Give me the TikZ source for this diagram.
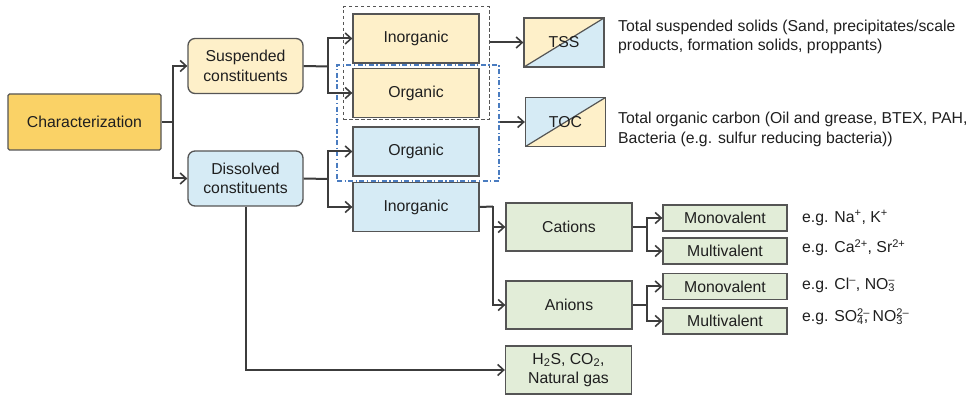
\documentclass[tikz,border=0pt]{standalone}
\usepackage{fontspec}
\setmainfont{Liberation Sans}
\usepackage{xcolor}
\usepackage{tikz}
\usetikzlibrary{arrows.meta}

\definecolor{charfill}{HTML}{FAD266}
\definecolor{suspfill}{HTML}{FEF0C9}
\definecolor{dissfill}{HTML}{D6EBF5}
\definecolor{ionfill}{HTML}{E2EDD8}
\definecolor{boxline}{HTML}{555555}
\definecolor{wire}{HTML}{3C3C3C}
\definecolor{grpblue}{HTML}{4A7CC0}

\newcommand{\chemion}[2]{\rlap{\textsuperscript{#2}}\textsubscript{#1}}

\begin{document}
\begin{tikzpicture}[x=1pt, y=-1pt, font=\fontsize{15.8}{19.5}\selectfont,
  box/.style={draw=boxline, line width=1.3pt, align=center, inner sep=2pt, text=black!88},
  topbox/.style={box, fill=charfill, rounded corners=1.5pt, minimum width=153pt, minimum height=56pt},
  phasebox/.style={box, rounded corners=7pt, minimum width=115pt, minimum height=55pt},
  kindbox/.style={box, minimum width=126pt, minimum height=49pt},
  ionbox/.style={box, fill=ionfill, minimum width=126pt, minimum height=48pt},
  valbox/.style={box, fill=ionfill, minimum width=124pt, minimum height=26pt, inner sep=1pt},
  halfbox/.style 2 args={box, minimum width=80pt, minimum height=49pt, path picture={
    \fill[#1] (path picture bounding box.south west) |- (path picture bounding box.north east) -- cycle;
    \fill[#2] (path picture bounding box.south west) -| (path picture bounding box.north east) -- cycle;
    \draw[boxline, line width=1.2pt] (path picture bounding box.south west) -- (path picture bounding box.north east);}},
  grp/.style={draw=boxline, line width=1pt, dash pattern=on 3.5pt off 2.5pt, inner sep=0pt},
  bluegrp/.style={draw=grpblue, line width=1.3pt, dash pattern=on 5pt off 2.5pt on 1.2pt off 2.5pt, inner sep=0pt},
  note/.style={anchor=west, align=left, inner sep=0pt, text=black!88},
  arr/.style={draw=wire, line width=2pt, -{Straight Barb[length=6pt, width=11pt, line width=1.6pt]}},
  wr/.style={draw=wire, line width=2pt}]
\useasboundingbox (0,0) rectangle (972,395);

\node[topbox] (char) at (84.5,122) {Characterization};
\node[phasebox, fill=suspfill] (susp) at (245.5,66) {Suspended\\constituents};
\node[phasebox, fill=dissfill] (diss) at (245.5,178.5) {Dissolved\\constituents};

\node[kindbox, fill=suspfill] (sinorg) at (416,38.5) {Inorganic};
\node[kindbox, fill=suspfill] (sorg) at (416,93) {Organic};
\node[kindbox, fill=dissfill] (dorg) at (416,151.5) {Organic};
\node[kindbox, fill=dissfill] (dinorg) at (416,207) {Inorganic};

\node[grp, minimum width=146pt, minimum height=113pt] (sgrp) at (416,63.5) {};
\node[bluegrp, minimum width=162pt, minimum height=116pt] (ogrp) at (418,123) {};

\node[halfbox={suspfill}{dissfill}] (tss) at (564,42.5) {TSS};
\node[halfbox={dissfill}{suspfill}] (toc) at (565.5,122) {TOC};
\node[note] (tssnote) at (618,37) {Total suspended solids (Sand, precipitates/scale\\products, formation solids, proppants)};
\node[note] (tocnote) at (618,129.5) {Total organic carbon (Oil and grease, BTEX, PAH,\\Bacteria (e.g. sulfur reducing bacteria))};

\node[ionbox] (cat) at (569,227) {Cations};
\node[ionbox] (an) at (569,305) {Anions};
\node[valbox] (cmono) at (725,218) {Monovalent};
\node[valbox] (cmulti) at (725,251) {Multivalent};
\node[valbox] (amono) at (725,286.5) {Monovalent};
\node[valbox] (amulti) at (725,321) {Multivalent};
\node[note] (cmonoex) at (802,218) {e.g. Na\textsuperscript{+}, K\textsuperscript{+}};
\node[note] (cmultiex) at (802,248) {e.g. Ca\textsuperscript{2+}, Sr\textsuperscript{2+}};
\node[note] (amonoex) at (802,285) {e.g. Cl\textsuperscript{–}, NO\chemion{3}{–}};
\node[note] (amultiex) at (802,317) {e.g. SO\chemion{4}{2–}, NO\chemion{3}{2–}};

\node[ionbox] (gas) at (568.5,370) {H\textsubscript{2}S, CO\textsubscript{2},\\Natural gas};

\coordinate (j1) at (173,122);
\coordinate (j2) at (328,66.5);
\coordinate (j3) at (328,179);
\coordinate (j4) at (493,206.5);
\coordinate (j5) at (647,227);
\coordinate (j6) at (647,305);

\draw[wr] (char.east) -- (j1);
\draw[arr] (j1) |- (susp.west);
\draw[arr] (j1) |- (diss.west);
\draw[wr] (susp.east) -- (j2);
\draw[arr] (j2) |- (sinorg.west);
\draw[arr] (j2) |- (sorg.west);
\draw[wr] (diss.east) -- (j3);
\draw[arr] (j3) |- (dorg.west);
\draw[arr] (j3) |- (dinorg.west);
\draw[arr] (sgrp.east |- tss.west) -- (tss.west);
\draw[arr] (ogrp.east |- toc.west) -- (toc.west);
\draw[wr] (dinorg.east) -- (j4);
\draw[arr] (j4) |- (cat.west);
\draw[arr] (j4) |- (an.west);
\draw[wr] (cat.east) -- (j5);
\draw[arr] (j5) |- (cmono.west);
\draw[arr] (j5) |- (cmulti.west);
\draw[wr] (an.east) -- (j6);
\draw[arr] (j6) |- (amono.west);
\draw[arr] (j6) |- (amulti.west);
\draw[arr] (diss.south) |- (gas.west);
\end{tikzpicture}
\end{document}
